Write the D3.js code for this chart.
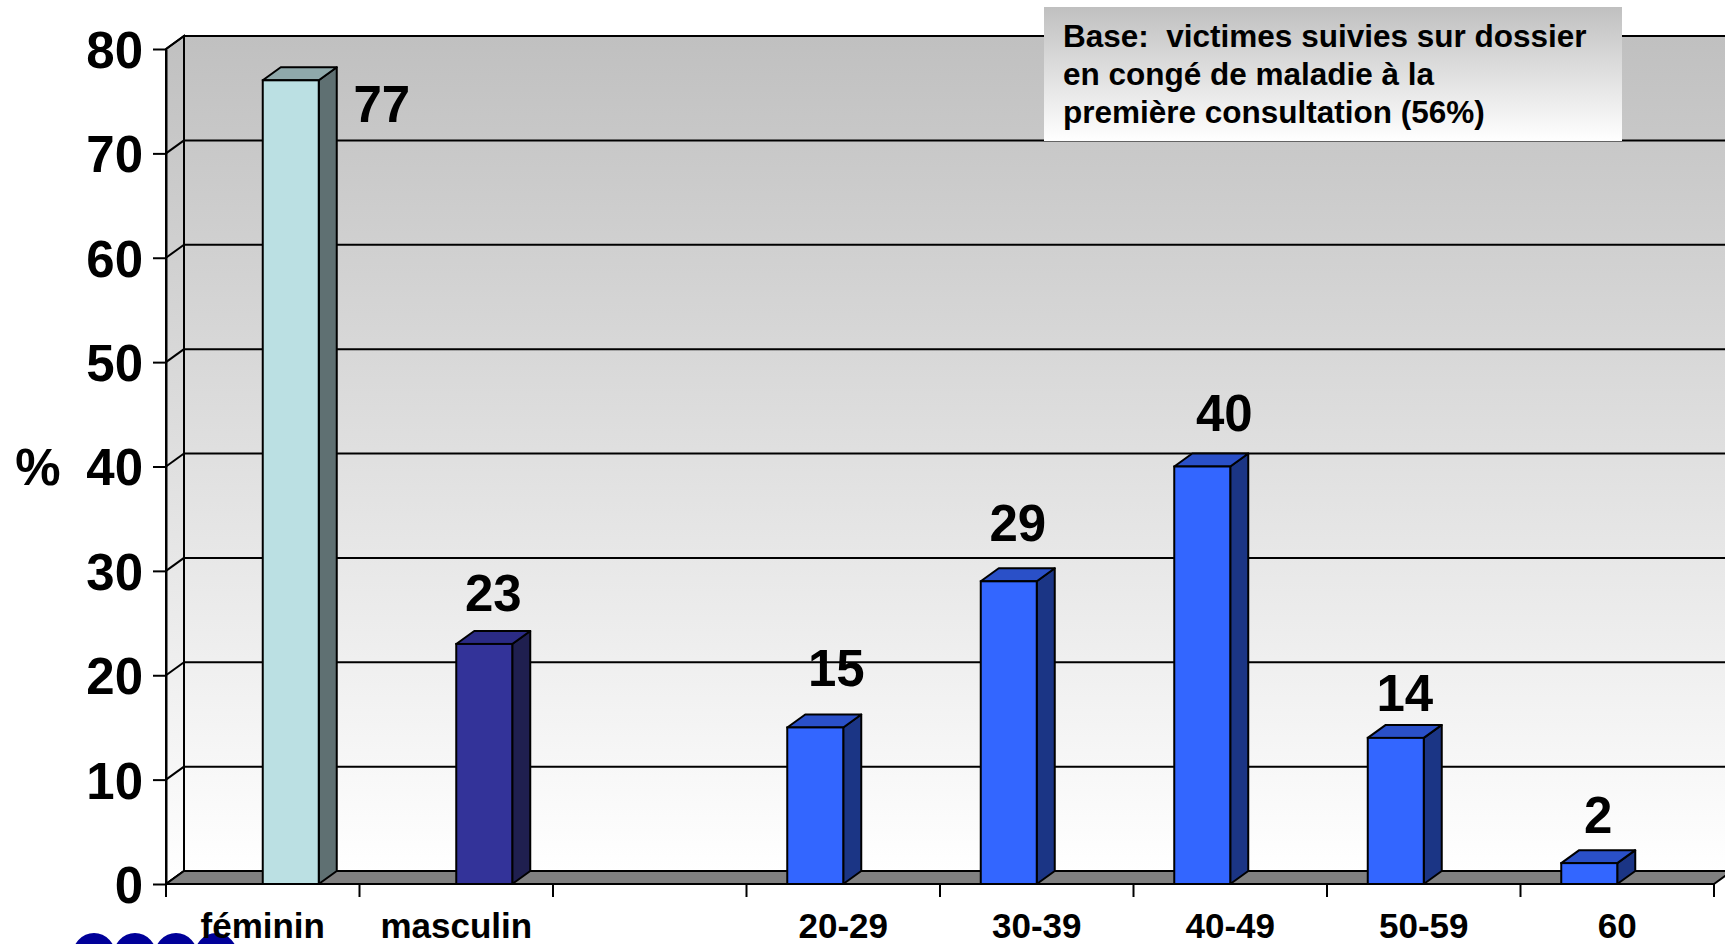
<!DOCTYPE html>
<html>
<head>
<meta charset="utf-8">
<script src="https://cdn.jsdelivr.net/npm/d3@7"></script>
<style>
  html, body { margin: 0; padding: 0; background: #ffffff; overflow: hidden; }
  svg { display: block; }
  text { font-family: "Liberation Sans", Arial, sans-serif; font-weight: bold; fill: #000; }
</style>
</head>
<body>
<svg id="chart" width="1725" height="944"></svg>
<script>
// ---- data ----
const sexCategories = ["féminin", "masculin"];
const sexValues = [77, 23];
const gapCategories = [""];
const ageCategories = ["20-29", "30-39", "40-49", "50-59", "60"];
const ageValues = [15, 29, 40, 14, 2];
const yTicks = [0, 10, 20, 30, 40, 50, 60, 70, 80];
const yAxisTitle = "%";
const noteLines = ["Base:  victimes suivies sur dossier", "en congé de maladie à la", "première consultation (56%)"];

// label nudges (pixels) for the manually placed value labels
const labelNudgeX = { "féminin": 0, "masculin": 0, "20-29": 12, "30-39": 0, "40-49": 13, "50-59": 0, "60": 0 };
const labelNudgeY = { "féminin": 0, "masculin": 0, "20-29": -8, "30-39": -7, "40-49": -3, "50-59": 6, "60": 3 };

// ---- layout ----
const W = 1725, H = 944;
const X0 = 166, X1 = 1714;
const DX = 18, DY = 13;
const BAR_W = 56;

const categories = [...sexCategories, ...gapCategories, ...ageCategories];
const bars = [
  ...sexCategories.map((c, i) => ({ cat: c, value: sexValues[i], group: "sex", idx: i })),
  ...ageCategories.map((c, i) => ({ cat: c, value: ageValues[i], group: "age", idx: i }))
];

const colors = {
  sex: [
    { front: "#BBE0E3", top: "#8FA9AB", side: "#5F7072" },
    { front: "#333399", top: "#2B2B85", side: "#1F1F4F" }
  ],
  age: { front: "#3366FF", top: "#2A50C8", side: "#1B3585" }
};

const svg = d3.select("#chart");
const x = d3.scaleBand().domain(categories).range([X0, X1]).paddingInner(0).paddingOuter(0);
const y = d3.scaleLinear().domain([0, 80]).range([884, 49]);

const defs = svg.append("defs");
const grad = defs.append("linearGradient").attr("id", "wallGrad")
  .attr("x1", 0).attr("y1", 0).attr("x2", 0).attr("y2", 1);
grad.append("stop").attr("offset", "0%").attr("stop-color", "#C0C0C0");
grad.append("stop").attr("offset", "100%").attr("stop-color", "#FFFFFF");

const noteGrad = defs.append("linearGradient").attr("id", "noteGrad")
  .attr("x1", 0).attr("y1", 0).attr("x2", 0).attr("y2", 1);
noteGrad.append("stop").attr("offset", "0%").attr("stop-color", "#C0C0C0");
noteGrad.append("stop").attr("offset", "100%").attr("stop-color", "#FFFFFF");

const yTop = y(80), yBot = y(0);

// back wall
svg.append("rect")
  .attr("x", X0 + DX).attr("y", yTop - DY)
  .attr("width", W + 50 - (X0 + DX)).attr("height", yBot - yTop)
  .attr("fill", "url(#wallGrad)").attr("stroke", "#000").attr("stroke-width", 2);

// side wall
svg.append("path")
  .attr("d", `M${X0},${yTop} L${X0 + DX},${yTop - DY} L${X0 + DX},${yBot - DY} L${X0},${yBot} Z`)
  .attr("fill", "url(#wallGrad)").attr("stroke", "#000").attr("stroke-width", 2);

// gridlines (back wall + side wall diagonals)
const grid = svg.append("g");
yTicks.forEach(v => {
  const yy = y(v);
  if (v > 0) {
    grid.append("line")
      .attr("x1", X0 + DX).attr("x2", W + 10)
      .attr("y1", yy - DY).attr("y2", yy - DY)
      .attr("stroke", "#000").attr("stroke-width", 2);
  }
  grid.append("line")
    .attr("x1", X0).attr("y1", yy).attr("x2", X0 + DX).attr("y2", yy - DY)
    .attr("stroke", "#000").attr("stroke-width", 2);
});

// floor
svg.append("path")
  .attr("d", `M${X0},${yBot} L${X1},${yBot} L${X1 + DX},${yBot - DY} L${X0 + DX},${yBot - DY} Z`)
  .attr("fill", "#808080").attr("stroke", "#000").attr("stroke-width", 2).attr("stroke-linejoin", "round");

// bars
function barGeom(d) {
  const c = x(d.cat) + x.bandwidth() / 2;
  const left = d.group === "sex" ? c : c - BAR_W;
  return { left, right: left + BAR_W, top: y(d.value), bottom: y(0) };
}
function barColor(d) {
  return d.group === "sex" ? colors.sex[d.idx] : colors.age;
}

const barG = svg.append("g").selectAll("g").data(bars).join("g");
barG.append("path") // side
  .attr("d", d => {
    const g = barGeom(d);
    return `M${g.right},${g.bottom} L${g.right + DX},${g.bottom - DY} L${g.right + DX},${g.top - DY} L${g.right},${g.top} Z`;
  })
  .attr("fill", d => barColor(d).side).attr("stroke", "#000").attr("stroke-width", 2).attr("stroke-linejoin", "round");
barG.append("path") // top
  .attr("d", d => {
    const g = barGeom(d);
    return `M${g.left},${g.top} L${g.left + DX},${g.top - DY} L${g.right + DX},${g.top - DY} L${g.right},${g.top} Z`;
  })
  .attr("fill", d => barColor(d).top).attr("stroke", "#000").attr("stroke-width", 2).attr("stroke-linejoin", "round");
barG.append("rect") // front
  .attr("x", d => barGeom(d).left)
  .attr("y", d => barGeom(d).top)
  .attr("width", BAR_W)
  .attr("height", d => barGeom(d).bottom - barGeom(d).top)
  .attr("fill", d => barColor(d).front).attr("stroke", "#000").attr("stroke-width", 2);

// value labels
svg.append("g").selectAll("text").data(bars).join("text")
  .attr("text-anchor", "middle")
  .attr("font-size", 51)
  .attr("x", d => {
    const g = barGeom(d);
    if (d.value > 70) return g.right + DX + 45;
    return (g.left + g.right + DX) / 2 + labelNudgeX[d.cat];
  })
  .attr("y", d => {
    const g = barGeom(d);
    if (d.value > 70) return g.top + 42;
    return g.top - DY - 20 + labelNudgeY[d.cat];
  })
  .text(d => d.value);

// y axis
const yAxis = d3.axisLeft(y).tickValues(yTicks).tickSize(13).tickSizeOuter(0).tickPadding(10);
const yg = svg.append("g").attr("transform", `translate(${X0},0)`).call(yAxis);
yg.select(".domain").attr("stroke", "#000").attr("stroke-width", 2);
yg.selectAll(".tick line").attr("stroke", "#000").attr("stroke-width", 2);
yg.selectAll(".tick text")
  .attr("font-family", "Liberation Sans, Arial, sans-serif")
  .attr("font-weight", "bold")
  .attr("font-size", 51).attr("fill", "#000").attr("dy", "0.36em");

svg.append("text").attr("x", 38).attr("y", y(40) + 18)
  .attr("text-anchor", "middle").attr("font-size", 51).text(yAxisTitle);

// x axis: front line + boundary ticks
const bounds = [...categories.map(c => x(c)), X1];
svg.append("line").attr("x1", X0).attr("x2", X1).attr("y1", yBot).attr("y2", yBot)
  .attr("stroke", "#000").attr("stroke-width", 2);
svg.append("g").selectAll("line").data(bounds).join("line")
  .attr("x1", d => d).attr("x2", d => d)
  .attr("y1", yBot).attr("y2", yBot + 13)
  .attr("stroke", "#000").attr("stroke-width", 2);

// logo fragment bottom-left (partially visible)
const logoDots = [94, 135, 176, 216];
svg.append("g").selectAll("ellipse").data(logoDots).join("ellipse")
  .attr("cx", d => d).attr("cy", 957).attr("rx", 22).attr("ry", 24)
  .attr("fill", "#000099");

// x labels
svg.append("g").selectAll("text").data(categories.filter(c => c !== "")).join("text")
  .attr("x", d => x(d) + x.bandwidth() / 2)
  .attr("y", 938)
  .attr("text-anchor", "middle")
  .attr("font-size", 35)
  .text(d => d);

// note box
const nb = { x: 1044, y: 7, w: 578, h: 134 };
svg.append("rect").attr("x", nb.x).attr("y", nb.y).attr("width", nb.w).attr("height", nb.h)
  .attr("fill", "url(#noteGrad)");
svg.append("g").selectAll("text").data(noteLines).join("text")
  .attr("x", 1063).attr("y", (d, i) => 47 + i * 38)
  .attr("font-size", 31.5)
  .attr("xml:space", "preserve")
  .style("white-space", "pre")
  .text(d => d);
</script>
</body>
</html>
